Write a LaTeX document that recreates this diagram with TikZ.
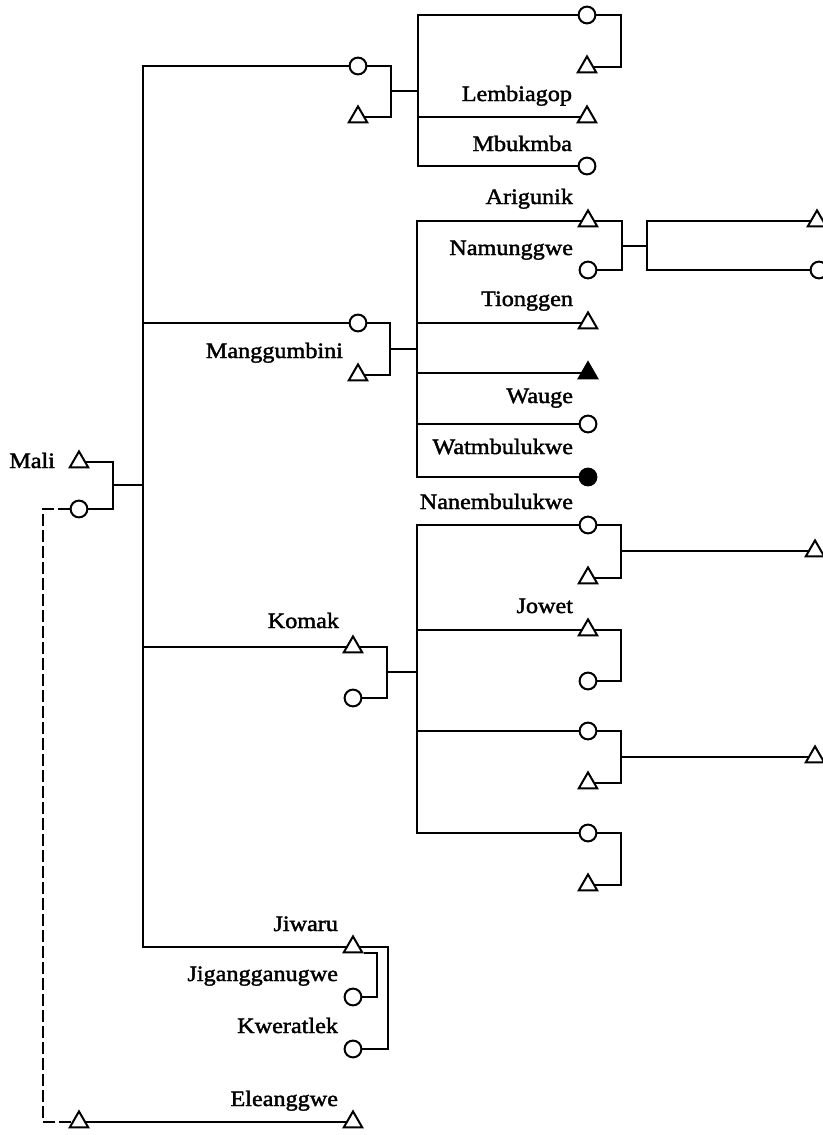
\documentclass[tikz,border=0pt]{standalone}
\usepackage{fontspec}
\setmainfont{Liberation Serif}[FakeStretch=1.1,FakeBold=1.8]
\usetikzlibrary{shapes.geometric}

\begin{document}
\begin{tikzpicture}[
    x=0.5pt, y=-0.5pt,
    line width=1pt,
    man/.style={draw, regular polygon, regular polygon sides=3, minimum size=10.6pt, inner sep=0pt, fill=white},
    woman/.style={draw, circle, minimum size=8.4pt, inner sep=0pt, fill=white},
    mandead/.style={man, fill=black},
    womandead/.style={woman, fill=black},
    lbl/.style={anchor=base east, inner sep=0pt, font=\fontsize{11}{13}\selectfont},
    kin/.style={dash pattern=on 6pt off 2pt}
]
\useasboundingbox (0,0) rectangle (823,1135);

\node[man] (mali) at (79,462) {};
\node[woman] (maliw) at (79,509) {};
\coordinate (j-mali) at (113,485);
\coordinate (m-bot) at (143,947);

\node[woman] (a1) at (358,66) {};
\node[man] (a2) at (358,117) {};
\coordinate (j-a) at (391,91);
\node[woman] (t1) at (587,15) {};
\node[man] (t2) at (587,67) {};
\coordinate (j-t) at (621,41);
\node[man] (lemb) at (587,117) {};
\node[woman] (mbuk) at (587,166) {};
\coordinate (v1bot) at (418,166);

\node[woman] (mangw) at (358,323) {};
\node[man] (mang) at (358,375) {};
\coordinate (j-m) at (390,349);
\node[man] (arig) at (588,221) {};
\node[woman] (namw) at (588,270) {};
\coordinate (j-n) at (622,246);
\node[man] (r1) at (817,221) {};
\node[woman] (r2) at (819,270) {};
\coordinate (v3bot) at (647,270);
\node[man] (tiong) at (588,323) {};
\node[mandead] (mdead) at (588,373) {};
\node[woman] (waug) at (588,424) {};
\node[womandead] (watm) at (588,477) {};
\coordinate (v2bot) at (417,477);

\node[man] (komak) at (353,647) {};
\node[woman] (komw) at (353,698) {};
\coordinate (j-k) at (387,672);
\node[woman] (nanem) at (588,525) {};
\node[man] (nanh) at (588,578) {};
\coordinate (j-1) at (621,551);
\node[man] (o1) at (815,551) {};
\node[man] (jowet) at (588,630) {};
\node[woman] (joww) at (588,681) {};
\coordinate (j-2) at (621,655);
\node[woman] (c3w) at (588,731) {};
\node[man] (c3h) at (588,783) {};
\coordinate (j-3) at (621,757);
\node[man] (o2) at (815,757) {};
\node[woman] (c4w) at (588,833) {};
\node[man] (c4h) at (588,885) {};
\coordinate (j-4) at (621,859);
\coordinate (v4bot) at (417,833);

\node[man] (jiwaru) at (353,947) {};
\node[woman] (jigw) at (353,997) {};
\node[woman] (kwer) at (353,1049) {};
\coordinate (jw-i) at (377,997);
\coordinate (jw-o) at (388,1049);

\node[man] (el1) at (79,1122) {};
\node[man] (el2) at (353,1122) {};
\coordinate (d-bot) at (43,1122);

\node[lbl, anchor=base east] (l-mali) at (56,468) {Mali};
\node[lbl] (l-lemb) at (573,101) {Lembiagop};
\node[lbl] (l-mbuk) at (573,151) {Mbukmba};
\node[lbl] (l-arig) at (574,204) {Arigunik};
\node[lbl] (l-namw) at (574,255) {Namunggwe};
\node[lbl] (l-tiong) at (574,306) {Tionggen};
\node[lbl] (l-waug) at (574,403) {Wauge};
\node[lbl] (l-watm) at (574,454) {Watmbulukwe};
\node[lbl] (l-nanem) at (574,509) {Nanembulukwe};
\node[lbl] (l-jowet) at (574,613) {Jowet};
\node[lbl] (l-mang) at (344,358) {Manggumbini};
\node[lbl] (l-komak) at (340,628) {Komak};
\node[lbl] (l-jiwaru) at (339,931) {Jiwaru};
\node[lbl] (l-jigw) at (339,981) {Jigangganugwe};
\node[lbl] (l-kwer) at (339,1033) {Kweratlek};
\node[lbl] (l-el) at (339,1106) {Eleanggwe};

\draw (mali) -| (j-mali) |- (maliw);
\draw (j-mali) -- (j-mali -| m-bot);
\draw (a1) -| (m-bot) -- (jiwaru);
\draw (m-bot |- mangw) -- (mangw);
\draw (m-bot |- komak) -- (komak);

\draw (a1) -| (j-a) |- (a2);
\draw (j-a) -- (j-a -| v1bot);
\draw (t1) -| (v1bot) -- (mbuk);
\draw (v1bot |- lemb) -- (lemb);
\draw (t1) -| (j-t) |- (t2);

\draw (mangw) -| (j-m) |- (mang);
\draw (j-m) -- (j-m -| v2bot);
\draw (arig) -| (v2bot) -- (watm);
\draw (v2bot |- tiong) -- (tiong);
\draw (v2bot |- mdead) -- (mdead);
\draw (v2bot |- waug) -- (waug);
\draw (arig) -| (j-n) |- (namw);
\draw (j-n) -- (j-n -| v3bot);
\draw (r1) -| (v3bot) -- (r2);

\draw (komak) -| (j-k) |- (komw);
\draw (j-k) -- (j-k -| v4bot);
\draw (nanem) -| (v4bot) -- (c4w);
\draw (v4bot |- jowet) -- (jowet);
\draw (v4bot |- c3w) -- (c3w);
\draw (nanem) -| (j-1) |- (nanh);
\draw (j-1) -- (o1);
\draw (jowet) -| (j-2) |- (joww);
\draw (c3w) -| (j-3) |- (c3h);
\draw (j-3) -- (o2);
\draw (c4w) -| (j-4) |- (c4h);

\draw (jiwaru.east) -| (jw-o) -- (kwer);
\draw (jiwaru.-30) -| (jw-i) -- (jigw);

\draw[kin] (maliw) -| (d-bot) -- (el1);
\draw (el1) -- (el2);
\end{tikzpicture}
\end{document}
